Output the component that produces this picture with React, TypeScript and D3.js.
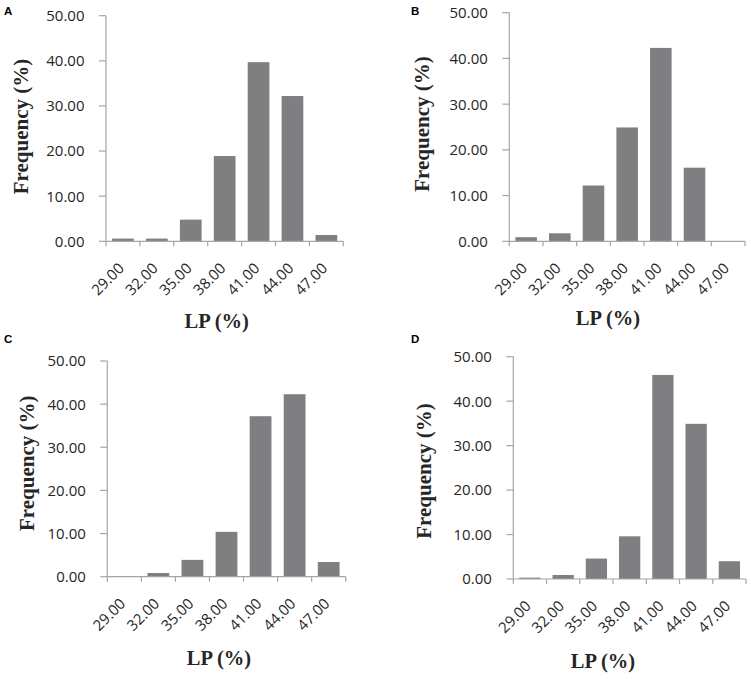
import React from "react";
import * as d3 from "d3";

const categories = ["29.00", "32.00", "35.00", "38.00", "41.00", "44.00", "47.00"];
const valuesA = [0.6, 0.6, 4.8, 18.9, 39.7, 32.2, 1.4];
const valuesB = [0.9, 1.75, 12.2, 24.9, 42.3, 16.1, 0];
const valuesC = [0, 0.85, 3.9, 10.4, 37.2, 42.3, 3.4];
const valuesD = [0.3, 0.9, 4.6, 9.6, 45.9, 34.9, 4.0];
const yTicks = [0, 10, 20, 30, 40, 50];
const panelLetters = ["A", "B", "C", "D"];
const xTitle = "LP (%)";
const yTitle = "Frequency (%)";

const layouts = [
  { x0: 106, x1: 343.3, yTop: 15.7, y0: 241.3, fx: 20.7, fy: 126.5, lx: 216.7, ly: 327.7, px: 4, py: 15 },
  { x0: 509.3, x1: 745, yTop: 12.7, y0: 241.3, fx: 421.7, fy: 124, lx: 608, ly: 325, px: 411, py: 15 },
  { x0: 107.3, x1: 345.7, yTop: 361, y0: 576.7, fx: 26.7, fy: 463.3, lx: 219, ly: 665, px: 4, py: 343 },
  { x0: 513.3, x1: 746, yTop: 356.7, y0: 579, fx: 423.3, fy: 471, lx: 603, ly: 668, px: 411, py: 343 },
];

const BAR = "#7f7f82";
const AXIS = "#a6a6a6";
const TEXT = "#262626";
const SANS = "'Open Sans', 'DejaVu Sans', sans-serif";
const SERIF = "'Liberation Serif', 'Times New Roman', serif";

function Panel({ values, layout, letter }: { values: number[]; layout: any; letter: string }) {
  const x = d3.scaleBand<string>().domain(categories).range([layout.x0, layout.x1]).paddingInner(0.36).paddingOuter(0.18);
  const xb = d3.scaleBand<string>().domain(categories).range([layout.x0, layout.x1]);
  const y = d3.scaleLinear().domain([0, 50]).range([layout.y0, layout.yTop]);
  const fmt = d3.format(".2f");
  const boundaries = [...categories.map((c) => xb(c) as number), layout.x1];
  return (
    <g>
      <text x={layout.px} y={layout.py} fontFamily="'Liberation Sans', Arial, sans-serif" fontWeight="bold" fontSize={11.5} fill="#000">
        {letter}
      </text>
      {categories.map((c, i) => (
        <rect key={c} x={x(c)} y={y(values[i])} width={x.bandwidth()} height={Math.max(0, y(0) - y(values[i]))} fill={BAR} />
      ))}
      <line x1={layout.x0} x2={layout.x0} y1={y(50)} y2={y(0)} stroke={AXIS} strokeWidth={1.2} />
      <line x1={layout.x0} x2={layout.x1} y1={y(0)} y2={y(0)} stroke={AXIS} strokeWidth={1.2} />
      {yTicks.map((t) => (
        <g key={t}>
          <line x1={layout.x0 - 7} x2={layout.x0} y1={y(t)} y2={y(t)} stroke={AXIS} strokeWidth={1.2} />
          <text x={layout.x0 - 21.5} y={y(t)} dy="0.36em" textAnchor="end" fontFamily={SANS} fontSize={15} fill={TEXT}>
            {fmt(t)}
          </text>
        </g>
      ))}
      {boundaries.map((b, i) => (
        <line key={i} x1={b} x2={b} y1={y(0)} y2={y(0) + 5} stroke={AXIS} strokeWidth={1.2} />
      ))}
      {categories.map((c) => {
        const cx = (xb(c) as number) + xb.bandwidth() / 2 + 2;
        const cy = y(0) + 28;
        return (
          <text key={c} transform={`translate(${cx},${cy}) rotate(-45)`} textAnchor="end" fontFamily={SANS} fontSize={15} fill={TEXT}>
            {c}
          </text>
        );
      })}
      <text transform={`translate(${layout.fx},${layout.fy}) rotate(-90)`} dy="0.35em" textAnchor="middle" fontFamily={SERIF} fontWeight="bold" fontSize={21} fill={TEXT}>
        {yTitle}
      </text>
      <text x={layout.lx} y={layout.ly} textAnchor="middle" fontFamily={SERIF} fontWeight="bold" fontSize={20.5} fill={TEXT}>
        {xTitle}
      </text>
    </g>
  );
}

export default function App() {
  const all = [valuesA, valuesB, valuesC, valuesD];
  return (
    <svg width={751} height={679} style={{ position: "absolute", left: 0, top: 0, background: "#fff" }}>
      <rect width={751} height={679} fill="#fff" />
      {all.map((v, i) => (
        <Panel key={i} values={v} layout={layouts[i]} letter={panelLetters[i]} />
      ))}
    </svg>
  );
}
